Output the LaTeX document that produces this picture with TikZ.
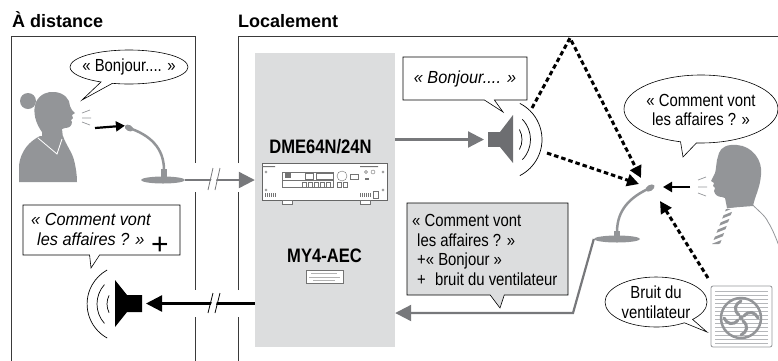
\documentclass[tikz,border=0pt]{standalone}
\usepackage{fontspec}
\setmainfont{Liberation Sans}[FakeStretch=0.85]
\newfontfamily\headfont{Liberation Sans}
\newfontfamily\slantfont{Liberation Sans}[FakeStretch=0.93]
\usetikzlibrary{arrows.meta,shapes.geometric,shapes.callouts}

\definecolor{figgray}{HTML}{939598}
\definecolor{wiregray}{HTML}{77787B}
\definecolor{panelgray}{HTML}{DCDDDE}
\definecolor{spkgray}{HTML}{6D6E71}
\definecolor{framegray}{HTML}{3A3A3A}
\definecolor{linegray}{HTML}{B5B7BA}

\newcommand\bubsize{\fontsize{17.5}{19.5}\selectfont}

\tikzset{
  boxline/.style={draw=framegray, line width=0.9pt},
  graywire/.style={draw=wiregray, line width=2.2pt},
  bigtip/.style={-{Triangle[length=16pt,width=16pt]}},
  hotwire/.style={draw=black, line width=2.4pt},
  voice/.style={draw=black, line width=2.2pt, -{Triangle[length=9pt,width=10pt]}},
  echoline/.style={draw=black, line width=3pt, dash pattern=on 4.5pt off 3pt, -{Triangle[length=12pt,width=12pt]}},
  saybubble/.style={ellipse callout, draw=black, line width=0.6pt, fill=white, inner sep=0pt, callout pointer arc=12},
  notebubble/.style={rectangle callout, draw=black, line width=0.6pt, fill=white, inner sep=0pt, callout pointer width=10pt},
  saytext/.style={font=\bubsize, align=center, inner sep=0pt},
  devlabel/.style={font=\fontsize{19.5}{22}\selectfont\bfseries, inner sep=0pt},
  breath/.style={draw=figgray, line width=0.7pt},
  wave/.style={draw=black, line width=0.7pt},
  devpart/.style={draw=black!55, line width=0.4pt},
}

\begin{document}
\begin{tikzpicture}[x=1pt,y=-1pt]
\useasboundingbox (0,0) rectangle (778,360);

% headings
\node[anchor=base west, font=\headfont\bfseries\fontsize{18}{20}\selectfont, inner sep=0pt] (hfar) at (12,27) {À distance};
\node[anchor=base west, font=\headfont\bfseries\fontsize{18}{20}\selectfont, inner sep=0pt] (hnear) at (238,27) {Localement};

% room frames, broken where the lines pass
\draw[boxline] (11,365) -- (11,36) -- (195,36) -- (195,163);
\draw[boxline] (195,192) -- (195,290);
\draw[boxline] (195,317) -- (195,365);
\draw[boxline] (238,365) -- (238,317);
\draw[boxline] (238,290) -- (238,192);
\draw[boxline] (238,163) -- (238,36) -- (780,36);

% processor panel
\node[fill=panelgray, minimum width=140pt, minimum height=294pt, inner sep=0pt] (proc) at (325,200) {};
\node[devlabel, anchor=base] (dmelabel) at (320.5,153) {DME64N/24N};
\node[devlabel, anchor=base] (aeclabel) at (324.5,262) {MY4-AEC};

% DME front panel
\node[draw=black!60, line width=0.5pt, fill=white, minimum width=125pt, minimum height=37pt, inner sep=0pt] (dme) at (324.5,181.5) {};
\draw[devpart, fill=white] (282,200) rectangle (292,204) (360,200) rectangle (370,204);
\foreach \p in {(266,172),(266,190),(383,172),(383,190)} \draw[devpart] \p circle (1.2);
\draw[devpart] (282,172) rectangle (333,187) (282,180) -- (333,180);
\fill[black!55] (285,173) rectangle (291,178);
\draw[devpart] (305,173) rectangle (313,179) (316,173) rectangle (333,179);
\draw[devpart] (342,176) circle (5);
\draw[devpart] (350,174) rectangle (358,179);
\foreach \x in {302,308,314,320,326,337,343} \draw[devpart] (\x,182) rectangle ++(4.5,5);
\draw[devpart] (366,172) circle (1.5) (373,172) circle (2);
\fill[black!55] (365,178) rectangle (369,180);
\foreach \x in {265,267,...,275} \draw[devpart] (\x,193) -- (\x,197);
\foreach \x in {360,362,...,370} \draw[devpart] (\x,193) -- (\x,197);
\draw[devpart] (373,191) rectangle (378,198);
\fill[black!55] (262,166) rectangle (275,167) (360,166) rectangle (378,167);

% MY4-AEC card
\node[draw=black!55, line width=0.5pt, fill=white, minimum width=37pt, minimum height=13pt, inner sep=0pt] (card) at (324.5,276.5) {};
\draw[black!30, line width=0.5pt] (311,273) -- (337,273) (309,277) -- (340,277) (313,280) -- (335,280);

% ---------- far-end room ----------
% speaker woman
\fill[figgray] (28,101) circle (8);
\fill[figgray] (42,132) .. controls (36,124) and (32,112) .. (36,102)
  .. controls (40,94) and (48,91) .. (55,92)
  .. controls (64,93) and (70,99) .. (70,106)
  -- (72,110) -- (75,113) -- (72,115) -- (73,118) -- (71,120) -- (72,122)
  .. controls (72,126) and (69,128) .. (65,128) -- (62,129) -- (63,138) -- (42,138) -- cycle;
\fill[figgray] (40,136) -- (63,136) .. controls (66,145) and (72,152) .. (74,160)
  .. controls (76,168) and (77,175) .. (77,182) -- (19,182) -- (19,165)
  .. controls (21,150) and (30,141) .. (40,136) -- cycle;
\draw[white, line width=0.8pt] (38,138) -- (57,154) -- (62,139);
\draw[breath] (82,113) -- (90,110) (82,118) -- (91,118) (82,122) -- (90,125);

% far microphone
\node[ellipse, fill=figgray, minimum width=9pt, minimum height=6pt, inner sep=0pt, rotate=-30] (farmic) at (129,128) {};
\draw[figgray, line width=2.5pt] (farmic.center) .. controls (150,135) and (164,148) .. (164,170);
\fill[figgray] (161,169) rectangle (167,177);
\node[ellipse, fill=figgray, minimum width=44pt, minimum height=7pt, inner sep=0pt] (farbase) at (163,180) {};
\coordinate (farmouth) at (95,128);
\draw[voice] (farmouth) -- (farmic.west);

% far bubble
\node[saybubble, minimum width=118pt, minimum height=34pt, callout absolute pointer={(82,100)}] (farsay) at (129,67) {};
\node[saytext] (farsaytext) at (farsay.center) {« Bonjour.... »};

% far loudspeaker
\fill[black] (115,280) -- (127,295) -- (142,295) -- (142,312) -- (127,312) -- (115,327) -- cycle;
\coordinate (farspk) at (146,303.5);
\draw[wave] (126,304) ++(119:38.9) arc[start angle=119, end angle=241, radius=38.9];
\draw[wave] (126,304) ++(138:29) arc[start angle=138, end angle=222, radius=29];
\draw[wave] (126,304) ++(153:19) arc[start angle=153, end angle=207, radius=19];

% far loudspeaker bubble
\node[notebubble, minimum width=157pt, minimum height=50pt, callout absolute pointer={(91,268)}] (farnote) at (101.5,230) {};
\node[font=\slantfont\itshape\bubsize, align=left, anchor=base west, inner sep=0pt] (farnotetext) at (31,245) {« Comment vont\\\hspace*{6pt}les affaires ? »};
\node[font=\headfont\fontsize{30}{30}\selectfont, inner sep=0pt] (plus) at (160,246) {+};

% ---------- lines between the rooms ----------
\draw[graywire, bigtip] (farbase.east) -- (farbase.east -| proc.west);
\fill[white] (209,190) -- (214,168) -- (219,168) -- (214,190) -- cycle;
\draw[wiregray, line width=0.8pt] (208,190) -- (213,168) (215,190) -- (220,168);

\draw[hotwire, bigtip] (proc.west |- farspk) -- (farspk);
\fill[white] (209,313) -- (214,293) -- (219,293) -- (214,313) -- cycle;
\draw[black, line width=0.8pt] (208,313) -- (213,293) (215,313) -- (220,293);

% ---------- near-end room ----------
% loudspeaker
\fill[spkgray] (488,132) rectangle (500,147);
\fill[spkgray] (500,147) -- (500,132) -- (513,115) -- (513,163) -- cycle;
\coordinate (nearspk) at (484,139.5);
\draw[graywire, bigtip] (proc.east |- nearspk) -- (nearspk);
\draw[wave] (501.5,139.5) ++(-63:40.5) arc[start angle=-63, end angle=63, radius=40.5];
\draw[wave] (501.5,139.5) ++(-44:29) arc[start angle=-44, end angle=44, radius=29];
\draw[wave] (501.5,139.5) ++(-29:20.5) arc[start angle=-29, end angle=29, radius=20.5];

\node[notebubble, minimum width=124pt, minimum height=43pt, callout absolute pointer={(503,112)}] (nearnote) at (465,78.5) {};
\node[font=\slantfont\itshape\bubsize, inner sep=0pt] (nearnotetext) at (nearnote.center) {« Bonjour.... »};

% near microphone
\node[ellipse, fill=figgray, minimum width=10pt, minimum height=6pt, inner sep=0pt, rotate=30] (nearmic) at (650,188) {};
\draw[figgray, line width=2.5pt] (nearmic.center) .. controls (630,197) and (617,210) .. (617,232);
\fill[figgray] (614,231) rectangle (620,238);
\node[ellipse, fill=figgray, minimum width=46pt, minimum height=7pt, inner sep=0pt] (nearbase) at (617,239) {};
\coordinate (bend) at (573,313);
\draw[graywire, bigtip] (nearbase.west) -- (bend) -- (bend -| proc.east);

% the three sounds reaching the microphone
\coordinate (roof) at (570,38);
\coordinate (hitA) at (641,178);
\coordinate (hitB) at (639,184);
\coordinate (hitC) at (660,201);
\draw[echoline] (532,108) -- (roof) -- (hitA);
\draw[echoline] (547,153) -- (hitB);
\draw[echoline] (708,278) -- (hitC);

% man
\fill[figgray] (753,206) .. controls (755,196) and (760,188) .. (761,175)
  .. controls (763,160) and (752,146) .. (737,145)
  .. controls (728,144) and (721,147) .. (719,153) -- (717,160)
  .. controls (716,166) and (716,170) .. (715,173) -- (711,181) -- (714,183) -- (713,186)
  -- (715,188) -- (714,191) .. controls (715,195) and (718,197) .. (722,197) -- (725,198) -- (727,208) -- cycle;
\draw[figgray, line width=0.8pt] (727,208) -- (752,204) .. controls (757,210) and (765,215) .. (768,222)
  .. controls (772,228) and (776,238) .. (779,246);
\begin{scope}
  \clip (726,209) -- (733,209) -- (720,244) -- (712,244) -- cycle;
  \foreach \k in {0,...,7} \draw[figgray, line width=2.6pt] (705,212+6*\k) -- (740,198+6*\k);
\end{scope}
\draw[breath] (698,180) -- (706,177) (698,187) -- (707,187) (698,193) -- (706,196);
\coordinate (nearmouth) at (690,187);
\draw[voice] (nearmouth) -- (663,187);

\node[saybubble, minimum width=154pt, minimum height=68pt, callout absolute pointer={(683,157)}] (nearsay) at (701,109) {};
\node[saytext] (nearsaytext) at (701,110) {« Comment vont\\les affaires ? »};

% fan
\node[draw=figgray, line width=0.8pt, rounded corners=2pt, minimum width=61pt, minimum height=61pt, inner sep=0pt] (fan) at (741.5,316.5) {};
\foreach \y in {291,295,...,343} \draw[linegray, line width=0.5pt] (715,\y) -- (768,\y);
\draw[figgray, line width=2.5pt] (741,318) circle (20);
\begin{scope}[shift={(741,318)}]
  \foreach \a in {0,90,180,270}
    \draw[rotate=\a, figgray, line width=3pt, line cap=round] (3,-2) .. controls (8,-8) and (14,-6) .. (17,0);
  \fill[figgray] (0,0) circle (2.5);
\end{scope}

\node[saybubble, minimum width=102pt, minimum height=50pt, callout absolute pointer={(707,332)}] (fansay) at (656,302) {};
\node[saytext] (fansaytext) at (656,302) {Bruit du\\ventilateur};

% mixed signal note
\node[notebubble, fill=panelgray, minimum width=161pt, minimum height=92pt, callout absolute pointer={(500,308)}, callout pointer width=14pt] (mixnote) at (487.5,249) {};
\node[font=\bubsize, align=left, anchor=base west, inner sep=0pt] (mixtext) at (412,285)
  {« Comment vont\\\hspace*{5pt}les affaires ? »\\\hspace*{5pt}+« Bonjour »\\\hspace*{5pt}+\hspace*{5pt} bruit du ventilateur};

\end{tikzpicture}
\end{document}
